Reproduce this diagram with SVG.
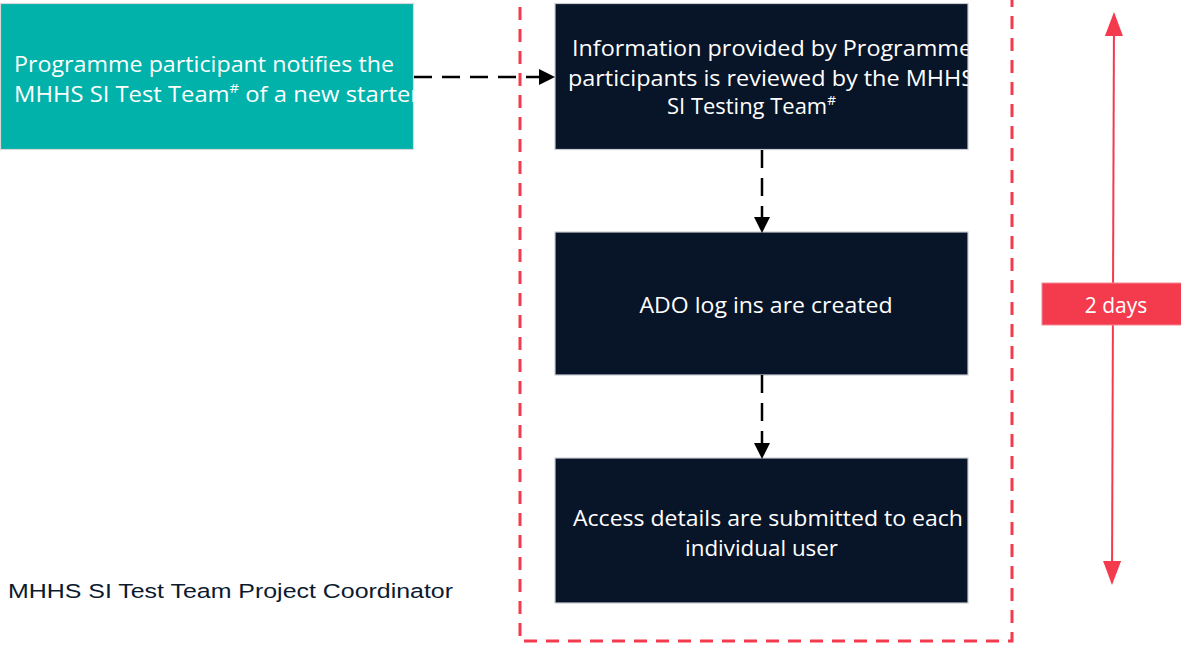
<svg xmlns="http://www.w3.org/2000/svg" width="1181" height="648" viewBox="0 0 1181 648">
<style>
.t{font-family:"Open Sans","Noto Sans","Liberation Sans",sans-serif;fill:#ffffff;font-size:21px}
.dark{fill:#081528;stroke:#c8ccd2;stroke-width:1.2}
.conn{stroke:#000;stroke-width:2.5;stroke-dasharray:18 10;fill:none}
.sup{font-size:13px}
</style>
<defs>
<marker id="ah" markerWidth="16" markerHeight="16" refX="14" refY="8" orient="auto" markerUnits="userSpaceOnUse">
<path d="M0,0 L16,8 L0,16 Z" fill="#000"/>
</marker>
<marker id="rh" markerWidth="26" markerHeight="18" refX="22" refY="9" orient="auto-start-reverse" markerUnits="userSpaceOnUse">
<path d="M0,0 L24,9 L0,18 Z" fill="#F43B4E"/>
</marker>
<clipPath id="c1"><rect x="555" y="3" width="413" height="147"/></clipPath>
<clipPath id="c0"><rect x="0" y="3" width="414" height="147"/></clipPath>
</defs>
<rect width="1181" height="648" fill="#fff"/>

<g id="boundary">
<rect x="520" y="-20" width="492" height="661" fill="none" stroke="#F43B4E" stroke-width="3" stroke-dasharray="13 9"/>
</g>

<g id="n-participant">
<rect x="0.5" y="3.5" width="413" height="146" fill="#00B2AA" stroke="#d8d8d8" stroke-width="1.2"/>
<g clip-path="url(#c0)">
<text class="t" x="14" y="72" textLength="380" lengthAdjust="spacingAndGlyphs">Programme participant notifies the</text>
<text class="t" x="14" y="102" textLength="406" lengthAdjust="spacingAndGlyphs">MHHS SI Test Team<tspan class="sup" dy="-9">#</tspan><tspan dy="9"> of a new starter</tspan></text>
</g>
</g>

<g id="n-review">
<rect class="dark" x="555" y="3.5" width="413" height="146"/>
<g clip-path="url(#c1)">
<text class="t" x="572" y="56" textLength="400" lengthAdjust="spacingAndGlyphs">Information provided by Programme</text>
<text class="t" x="568" y="86" textLength="406" lengthAdjust="spacingAndGlyphs">participants is reviewed by the MHHS</text>
<text class="t" x="667" y="114" textLength="169" lengthAdjust="spacingAndGlyphs">SI Testing Team<tspan class="sup" dy="-9">#</tspan></text>
</g>
</g>

<g id="n-ado">
<rect class="dark" x="555" y="232" width="413" height="143"/>
<text class="t" x="766" y="313" text-anchor="middle" textLength="253" lengthAdjust="spacingAndGlyphs">ADO log ins are created</text>
</g>

<g id="n-access">
<rect class="dark" x="555" y="458" width="413" height="145"/>
<text class="t" x="573" y="526" textLength="390" lengthAdjust="spacingAndGlyphs">Access details are submitted to each</text>
<text class="t" x="685" y="556" textLength="153" lengthAdjust="spacingAndGlyphs">individual user</text>
</g>

<g id="connectors">
<line class="conn" x1="414" y1="77" x2="553" y2="77" marker-end="url(#ah)"/>
<line class="conn" x1="762" y1="150" x2="762" y2="231" marker-end="url(#ah)"/>
<line class="conn" x1="762" y1="375" x2="762" y2="457" marker-end="url(#ah)"/>
</g>

<g id="duration">
<line x1="1114" y1="14" x2="1112" y2="583" stroke="#F43B4E" stroke-width="2" marker-start="url(#rh)" marker-end="url(#rh)"/>
<rect x="1042" y="283" width="140" height="42" fill="#F43B4E" stroke="#f08a94" stroke-width="1"/>
<text x="1116" y="313" text-anchor="middle" font-family="'Open Sans','Noto Sans',sans-serif" font-size="21" fill="#fff">2 days</text>
</g>

<g id="role-label">
<text x="8" y="598" font-family="'Liberation Sans',Arial,sans-serif" font-size="20.5" fill="#0b1a2e" textLength="445" lengthAdjust="spacingAndGlyphs">MHHS SI Test Team Project Coordinator</text>
</g>
</svg>
